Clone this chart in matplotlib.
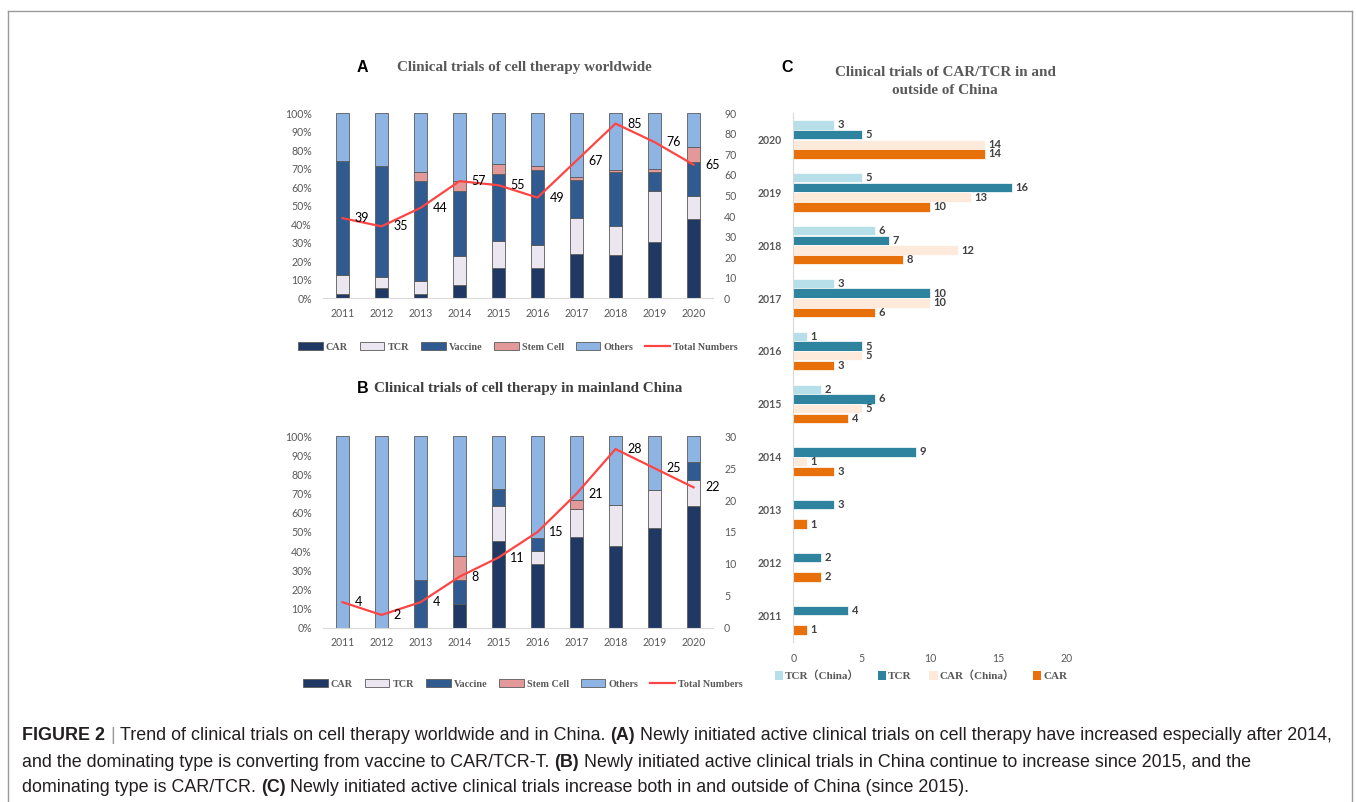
import numpy as np
import matplotlib
matplotlib.use("Agg")
import matplotlib.pyplot as plt
from matplotlib.patches import Patch
from matplotlib.lines import Line2D
from matplotlib.ticker import PercentFormatter

# ---------------- data ----------------
years = ["2011", "2012", "2013", "2014", "2015", "2016", "2017", "2018", "2019", "2020"]

# (A) worldwide trial counts by type
world_car = [1, 2, 1, 4, 9, 8, 16, 20, 23, 28]
world_tcr = [4, 2, 3, 9, 8, 6, 13, 13, 21, 8]
world_vaccine = [24, 21, 24, 20, 20, 20, 14, 25, 8, 12]
world_stem = [0, 0, 2, 3, 3, 1, 1, 1, 1, 5]
world_others = [10, 10, 14, 21, 15, 14, 23, 26, 23, 12]

# (B) mainland China trial counts by type
china_car = [0, 0, 0, 1, 5, 5, 10, 12, 13, 14]
china_tcr = [0, 0, 0, 0, 2, 1, 3, 6, 5, 3]
china_vaccine = [0, 0, 1, 1, 1, 1, 0, 0, 0, 2]
china_stem = [0, 0, 0, 1, 0, 0, 1, 0, 0, 0]
china_others = [4, 2, 3, 5, 3, 8, 7, 10, 7, 3]

# (C) CAR / TCR trials inside and outside China
c_tcr_china = [0, 0, 0, 0, 2, 1, 3, 6, 5, 3]
c_tcr = [4, 2, 3, 9, 6, 5, 10, 7, 16, 5]
c_car_china = [0, 0, 0, 1, 5, 5, 10, 12, 13, 14]
c_car = [1, 2, 1, 3, 4, 3, 6, 8, 10, 14]

type_names = ["CAR", "TCR", "Vaccine", "Stem Cell", "Others"]
type_colors = ["#203864", "#ece6f1", "#2f5b91", "#e3999a", "#8eb4e3"]
line_color = "#ff4444"
c_names = ["TCR\uff08China\uff09", "TCR", "CAR\uff08China\uff09", "CAR"]
c_colors = ["#b7dfe9", "#2e849e", "#fdeadb", "#e8700a"]

# ---------------- figure ----------------
W, H = 1356, 802
fig = plt.figure(figsize=(W / 100, H / 100), dpi=100)
fig.patch.set_facecolor("white")

GRAY = "#595959"
TICK_FONT = "Lato"
SERIF = "Liberation Serif"
SANS = "Liberation Sans"
TITLE_SIZE = 10.9


def px_axes(x0, y0, x1, y1):
    return fig.add_axes([x0 / W, 1 - y1 / H, (x1 - x0) / W, (y1 - y0) / H])


def stacked_panel(ax, series, right_max, right_step, label_color="#000000"):
    counts = np.array(series, dtype=float)
    totals = counts.sum(axis=0)
    shares = counts / totals
    x = np.arange(len(years))
    bottom = np.zeros(len(years))
    for share, color in zip(shares, type_colors):
        ax.bar(x, share, 0.31, bottom=bottom, color=color,
               edgecolor="#5a5a5a", linewidth=0.6, zorder=2)
        bottom += share
    ax.set_xlim(-0.5, len(years) - 0.5)
    ax.set_ylim(0, 1)
    ax.set_yticks(np.arange(0, 1.01, 0.1))
    ax.yaxis.set_major_formatter(PercentFormatter(1.0, decimals=0))
    ax.set_xticks(x)
    ax.set_xticklabels(years)
    for s in ["top", "left", "right"]:
        ax.spines[s].set_visible(False)
    ax.spines["bottom"].set_color("#d9d9d9")
    ax.tick_params(axis="both", length=0, labelsize=7.6, labelcolor=GRAY)
    ax.tick_params(axis="y", pad=8)
    ax.tick_params(axis="x", pad=7)
    for lab in ax.get_xticklabels() + ax.get_yticklabels():
        lab.set_family(TICK_FONT)

    ax2 = ax.twinx()
    ax2.set_ylim(0, right_max)
    ax2.set_yticks(np.arange(0, right_max + 0.1, right_step))
    for s in ["top", "left", "right", "bottom"]:
        ax2.spines[s].set_visible(False)
    ax2.tick_params(axis="y", length=0, labelsize=7.6, labelcolor=GRAY, pad=8)
    for lab in ax2.get_yticklabels():
        lab.set_family(TICK_FONT)
    ax2.plot(x, totals, color=line_color, linewidth=1.6, zorder=3)
    for xi, tv in zip(x, totals):
        ax2.annotate(f"{int(tv)}", (xi, tv), xytext=(8.5, 0), textcoords="offset points",
                     ha="left", va="center", fontsize=9, family=TICK_FONT,
                     color=label_color)
    return ax2


def stacked_legend(y_px, x_center_px):
    handles = [Patch(facecolor=c, edgecolor="#5a5a5a", linewidth=0.6) for c in type_colors]
    handles.append(Line2D([0], [0], color=line_color, linewidth=1.6))
    labels = type_names + ["Total Numbers"]
    leg = fig.legend(handles, labels, loc="center", ncol=6,
                     bbox_to_anchor=(x_center_px / W, 1 - y_px / H), frameon=False,
                     prop={"family": SERIF, "weight": "bold", "size": 7.3},
                     handlelength=2.4, handleheight=0.75, handletextpad=0.3,
                     columnspacing=1.2, borderpad=0)
    for t in leg.get_texts():
        t.set_color(GRAY)


# ---------------- panel A ----------------
axA = px_axes(323, 113.3, 713, 298.3)
stacked_panel(axA, [world_car, world_tcr, world_vaccine, world_stem, world_others], 90, 10)
stacked_legend(347, 518)
fig.text(357 / W, 1 - 68 / H, "A", fontsize=11.5, fontweight="bold", family=SANS,
         ha="left", va="center", color="black")
fig.text(397 / W, 1 - 68 / H, "Clinical trials of cell therapy worldwide", fontsize=TITLE_SIZE,
         fontweight="bold", family=SERIF, ha="left", va="center", color=GRAY)

# ---------------- panel B ----------------
axB = px_axes(323, 436.3, 713, 627.7)
stacked_panel(axB, [china_car, china_tcr, china_vaccine, china_stem, china_others], 30, 5)
stacked_legend(684, 523)
fig.text(357 / W, 1 - 388 / H, "B", fontsize=11.5, fontweight="bold", family=SANS,
         ha="left", va="center", color="black")
fig.text(374 / W, 1 - 388 / H, "Clinical trials of cell therapy in mainland China",
         fontsize=TITLE_SIZE, fontweight="bold", family=SERIF, ha="left", va="center",
         color="#404040")

# ---------------- panel C ----------------
axC = px_axes(793.3, 113, 1067, 641.7)
yc = np.arange(len(years))
step = 0.1835
offsets = [1.5 * step, 0.5 * step, -0.5 * step, -1.5 * step]
for vals, color, off in zip([c_tcr_china, c_tcr, c_car_china, c_car], c_colors, offsets):
    vals = np.array(vals, dtype=float)
    axC.barh(yc + off, vals, height=step * 0.97, color=color, edgecolor="white",
             linewidth=0.5, zorder=2)
    for yi, v in zip(yc, vals):
        if v > 0:
            axC.annotate(f"{int(v)}", (v, yi + off), xytext=(2.5, 0),
                         textcoords="offset points", ha="left", va="center",
                         fontsize=8, fontweight="bold", family=TICK_FONT,
                         color="#404040")
axC.set_ylim(-0.5, len(years) - 0.5)
axC.set_xlim(0, 20)
axC.set_xticks([0, 5, 10, 15, 20])
axC.set_yticks(yc)
axC.set_yticklabels(years)
for s in ["top", "right", "bottom"]:
    axC.spines[s].set_visible(False)
axC.spines["left"].set_color("#d9d9d9")
axC.tick_params(axis="both", length=0, labelsize=7.6, labelcolor=GRAY)
axC.tick_params(axis="y", pad=8)
axC.tick_params(axis="x", pad=8)
for lab in axC.get_yticklabels():
    lab.set_family(TICK_FONT)
    lab.set_fontweight("bold")
for lab in axC.get_xticklabels():
    lab.set_family(TICK_FONT)

c_handles = [Patch(facecolor=c, edgecolor="none") for c in c_colors]
legC = fig.legend(c_handles, c_names, loc="center", ncol=4,
                  bbox_to_anchor=(921 / W, 1 - 676 / H), frameon=False,
                  prop={"family": [SERIF, "Noto Sans CJK SC"], "weight": "bold", "size": 8},
                  handlelength=0.75, handleheight=0.75, handletextpad=0.2,
                  columnspacing=1.6, borderpad=0)
for t in legC.get_texts():
    t.set_color(GRAY)

fig.text(787 / W, 1 - 67 / H, "C", fontsize=11.5, fontweight="bold", family=SANS,
         ha="center", va="center", color="black")
fig.text(945 / W, 1 - 73 / H, "Clinical trials of CAR/TCR in and", fontsize=TITLE_SIZE,
         fontweight="bold", family=SERIF, ha="center", va="center", color=GRAY)
fig.text(945 / W, 1 - 91 / H, "outside of China", fontsize=TITLE_SIZE,
         fontweight="bold", family=SERIF, ha="center", va="center", color=GRAY)

# ---------------- frame ----------------
frame_kw = dict(color="#9a9a9a", linewidth=1.0, transform=fig.transFigure)
fig.add_artist(Line2D([8 / W, 8 / W], [0, 1 - 10.5 / H], **frame_kw))
fig.add_artist(Line2D([1352 / W, 1352 / W], [0, 1 - 10.5 / H], **frame_kw))
fig.add_artist(Line2D([8 / W, 1352 / W], [1 - 10.5 / H, 1 - 10.5 / H], **frame_kw))

# ---------------- caption ----------------
caption = [
    [("FIGURE 2", "bold", "#231f20"), ("|", "normal", "#9a9a9a"),
     ("Trend of clinical trials on cell therapy worldwide and in China.", "normal", "#231f20"),
     ("(A)", "bold", "#231f20"),
     ("Newly initiated active clinical trials on cell therapy have increased especially after 2014,",
      "normal", "#231f20")],
    [("and the dominating type is converting from vaccine to CAR/TCR-T.", "normal", "#231f20"),
     ("(B)", "bold", "#231f20"),
     ("Newly initiated active clinical trials in China continue to increase since 2015, and the",
      "normal", "#231f20")],
    [("dominating type is CAR/TCR.", "normal", "#231f20"), ("(C)", "bold", "#231f20"),
     ("Newly initiated active clinical trials increase both in and outside of China (since 2015).",
      "normal", "#231f20")],
]
baselines = [740, 767, 792]
renderer = fig.canvas.get_renderer()


def run_width(runs, size):
    total = 0.0
    for txt, weight, _ in runs:
        t = fig.text(0, 0, txt, fontsize=size, fontweight=weight, family=SANS)
        total += t.get_window_extent(renderer=renderer).width
        t.remove()
    sp = fig.text(0, 0, "a a", fontsize=size, family=SANS)
    nsp = fig.text(0, 0, "aa", fontsize=size, family=SANS)
    space = sp.get_window_extent(renderer=renderer).width - nsp.get_window_extent(renderer=renderer).width
    sp.remove()
    nsp.remove()
    return total + space * (len(runs) - 1), space


base_size = 10.0
w0, _ = run_width(caption[0], base_size)
cap_size = base_size * (1308 / w0)
_, space_w = run_width(caption[0], cap_size)

for runs, by in zip(caption, baselines):
    x = 22.0
    for txt, weight, color in runs:
        t = fig.text(x / W, 1 - by / H, txt, fontsize=cap_size, fontweight=weight,
                     family=SANS, color=color, ha="left", va="baseline")
        x += t.get_window_extent(renderer=renderer).width + space_w

fig.savefig("out.png", dpi=100, facecolor="white")
